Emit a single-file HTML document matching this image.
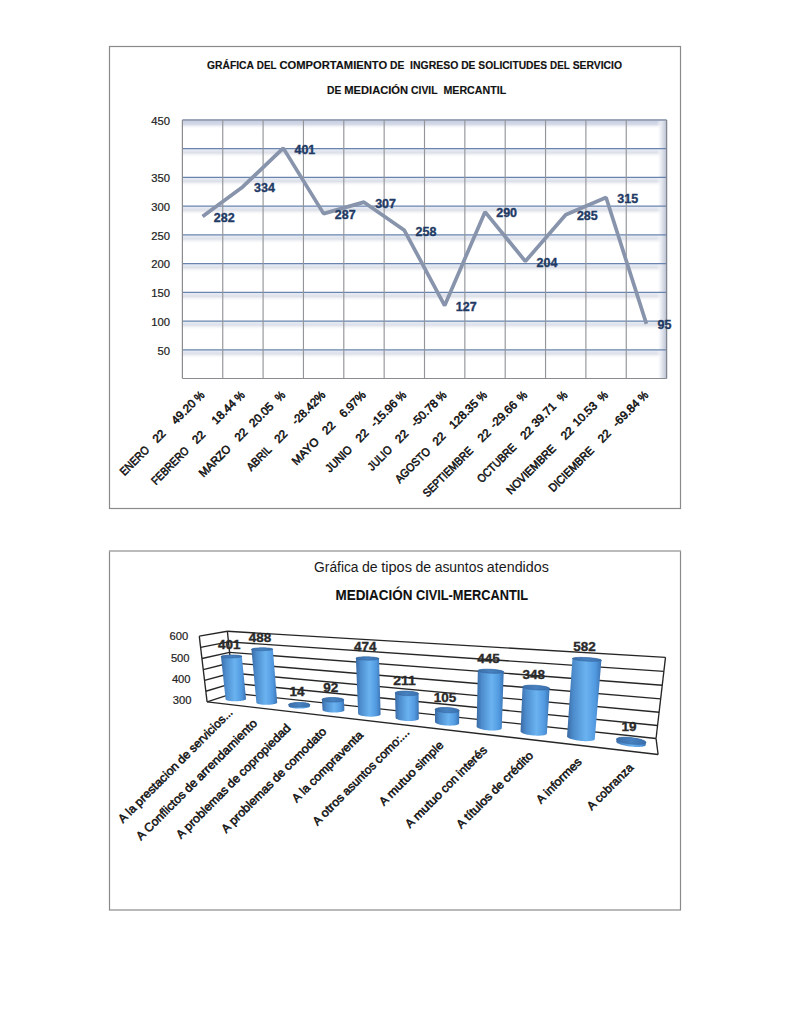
<!DOCTYPE html>
<html><head><meta charset="utf-8"><style>
html,body{margin:0;padding:0;background:#fff;}
svg{display:block;}
text{font-family:"Liberation Sans",sans-serif;white-space:pre;}
</style></head><body>
<svg width="791" height="1024" viewBox="0 0 791 1024">
<rect width="791" height="1024" fill="#fff"/>
<defs>
<linearGradient id="gshade" x1="0" y1="0" x2="0" y2="1">
 <stop offset="0" stop-color="#e8eef8"/><stop offset="0.45" stop-color="#dde0e8"/><stop offset="1" stop-color="#ffffff" stop-opacity="0"/>
</linearGradient>
<linearGradient id="gshadeT" x1="0" y1="0" x2="0" y2="1">
 <stop offset="0" stop-color="#c3cbe0"/><stop offset="0.5" stop-color="#d6dbe8"/><stop offset="1" stop-color="#ffffff" stop-opacity="0"/>
</linearGradient>
<linearGradient id="rshade" x1="0" y1="0" x2="1" y2="0">
 <stop offset="0" stop-color="#ffffff" stop-opacity="0"/><stop offset="0.5" stop-color="#e4e7ef"/><stop offset="1" stop-color="#bcc3d2"/>
</linearGradient>
<linearGradient id="cyl" x1="0" y1="0" x2="1" y2="0">
 <stop offset="0" stop-color="#3a6aa3"/><stop offset="0.18" stop-color="#4c8bcc"/><stop offset="0.55" stop-color="#6ab3f0"/><stop offset="0.82" stop-color="#529ae0"/><stop offset="1" stop-color="#3b73b3"/>
</linearGradient>
<linearGradient id="cyltop" x1="0" y1="0" x2="1" y2="0">
 <stop offset="0" stop-color="#3b6ea8"/><stop offset="0.5" stop-color="#4781bf"/><stop offset="1" stop-color="#3a70ad"/>
</linearGradient>
</defs>
<rect x="109.5" y="46.5" width="571" height="462" fill="#fff" stroke="#8a8a8a" stroke-width="1.2"/>
<text x="207.00" y="69.00" font-size="11.52" textLength="46.94" lengthAdjust="spacingAndGlyphs" style="font-weight:bold;fill:#111;stroke:#111;stroke-width:0.15">GRÁFICA</text>
<text x="256.83" y="69.00" font-size="11.52" textLength="19.73" lengthAdjust="spacingAndGlyphs" style="font-weight:bold;fill:#111;stroke:#111;stroke-width:0.15">DEL</text>
<text x="279.45" y="69.00" font-size="11.52" textLength="107.66" lengthAdjust="spacingAndGlyphs" style="font-weight:bold;fill:#111;stroke:#111;stroke-width:0.15">COMPORTAMIENTO</text>
<text x="390.00" y="69.00" font-size="11.52" textLength="14.31" lengthAdjust="spacingAndGlyphs" style="font-weight:bold;fill:#111;stroke:#111;stroke-width:0.15">DE</text>
<text x="410.10" y="69.00" font-size="11.52" textLength="48.16" lengthAdjust="spacingAndGlyphs" style="font-weight:bold;fill:#111;stroke:#111;stroke-width:0.15">INGRESO</text>
<text x="461.15" y="69.00" font-size="11.52" textLength="14.31" lengthAdjust="spacingAndGlyphs" style="font-weight:bold;fill:#111;stroke:#111;stroke-width:0.15">DE</text>
<text x="478.36" y="69.00" font-size="11.52" textLength="68.78" lengthAdjust="spacingAndGlyphs" style="font-weight:bold;fill:#111;stroke:#111;stroke-width:0.15">SOLICITUDES</text>
<text x="550.03" y="69.00" font-size="11.52" textLength="19.73" lengthAdjust="spacingAndGlyphs" style="font-weight:bold;fill:#111;stroke:#111;stroke-width:0.15">DEL</text>
<text x="572.64" y="69.00" font-size="11.52" textLength="49.33" lengthAdjust="spacingAndGlyphs" style="font-weight:bold;fill:#111;stroke:#111;stroke-width:0.15">SERVICIO</text>
<text x="327.00" y="94.40" font-size="11.52" textLength="14.31" lengthAdjust="spacingAndGlyphs" style="font-weight:bold;fill:#111;stroke:#111;stroke-width:0.15">DE</text>
<text x="344.21" y="94.40" font-size="11.52" textLength="63.94" lengthAdjust="spacingAndGlyphs" style="font-weight:bold;fill:#111;stroke:#111;stroke-width:0.15">MEDIACIÓN</text>
<text x="411.04" y="94.40" font-size="11.52" textLength="26.58" lengthAdjust="spacingAndGlyphs" style="font-weight:bold;fill:#111;stroke:#111;stroke-width:0.15">CIVIL</text>
<text x="443.41" y="94.40" font-size="11.52" textLength="62.76" lengthAdjust="spacingAndGlyphs" style="font-weight:bold;fill:#111;stroke:#111;stroke-width:0.15">MERCANTIL</text>
<rect x="182.4" y="349.78" width="484.2" height="9" fill="url(#gshade)"/>
<rect x="182.4" y="321.06" width="484.2" height="9" fill="url(#gshade)"/>
<rect x="182.4" y="292.33" width="484.2" height="9" fill="url(#gshade)"/>
<rect x="182.4" y="263.61" width="484.2" height="9" fill="url(#gshade)"/>
<rect x="182.4" y="234.89" width="484.2" height="9" fill="url(#gshade)"/>
<rect x="182.4" y="206.17" width="484.2" height="9" fill="url(#gshade)"/>
<rect x="182.4" y="177.44" width="484.2" height="9" fill="url(#gshade)"/>
<rect x="182.4" y="148.72" width="484.2" height="9" fill="url(#gshade)"/>
<rect x="182.4" y="120.00" width="484.2" height="9" fill="url(#gshadeT)"/>
<rect x="656.6" y="120.0" width="10" height="258.5" fill="url(#rshade)"/>
<line x1="182.4" y1="349.78" x2="666.6" y2="349.78" stroke="#6a84ae" stroke-width="1.2"/>
<line x1="182.4" y1="321.06" x2="666.6" y2="321.06" stroke="#6a84ae" stroke-width="1.2"/>
<line x1="182.4" y1="292.33" x2="666.6" y2="292.33" stroke="#6a84ae" stroke-width="1.2"/>
<line x1="182.4" y1="263.61" x2="666.6" y2="263.61" stroke="#6a84ae" stroke-width="1.2"/>
<line x1="182.4" y1="234.89" x2="666.6" y2="234.89" stroke="#6a84ae" stroke-width="1.2"/>
<line x1="182.4" y1="206.17" x2="666.6" y2="206.17" stroke="#6a84ae" stroke-width="1.2"/>
<line x1="182.4" y1="177.44" x2="666.6" y2="177.44" stroke="#6a84ae" stroke-width="1.2"/>
<line x1="182.4" y1="148.72" x2="666.6" y2="148.72" stroke="#6a84ae" stroke-width="1.2"/>
<line x1="182.4" y1="120.00" x2="666.6" y2="120.00" stroke="#9ba6ba" stroke-width="2"/>
<line x1="222.75" y1="120.0" x2="222.75" y2="378.5" stroke="#939599" stroke-width="1.15"/>
<line x1="263.10" y1="120.0" x2="263.10" y2="378.5" stroke="#939599" stroke-width="1.15"/>
<line x1="303.45" y1="120.0" x2="303.45" y2="378.5" stroke="#939599" stroke-width="1.15"/>
<line x1="343.80" y1="120.0" x2="343.80" y2="378.5" stroke="#939599" stroke-width="1.15"/>
<line x1="384.15" y1="120.0" x2="384.15" y2="378.5" stroke="#939599" stroke-width="1.15"/>
<line x1="424.50" y1="120.0" x2="424.50" y2="378.5" stroke="#939599" stroke-width="1.15"/>
<line x1="464.85" y1="120.0" x2="464.85" y2="378.5" stroke="#939599" stroke-width="1.15"/>
<line x1="505.20" y1="120.0" x2="505.20" y2="378.5" stroke="#939599" stroke-width="1.15"/>
<line x1="545.55" y1="120.0" x2="545.55" y2="378.5" stroke="#939599" stroke-width="1.15"/>
<line x1="585.90" y1="120.0" x2="585.90" y2="378.5" stroke="#939599" stroke-width="1.15"/>
<line x1="626.25" y1="120.0" x2="626.25" y2="378.5" stroke="#939599" stroke-width="1.15"/>
<line x1="182.4" y1="120.0" x2="182.4" y2="378.5" stroke="#8c8c90" stroke-width="1.2"/>
<line x1="182.4" y1="378.5" x2="666.6" y2="378.5" stroke="#8c8c90" stroke-width="1.2"/>
<line x1="666.6" y1="120.0" x2="666.6" y2="378.5" stroke="#80858f" stroke-width="1.3"/>
<text x="151.21" y="124.80" font-size="11.12" textLength="18.79" lengthAdjust="spacingAndGlyphs" style="fill:#222;stroke:#222;stroke-width:0.2">450</text>
<text x="151.21" y="182.24" font-size="11.12" textLength="18.79" lengthAdjust="spacingAndGlyphs" style="fill:#222;stroke:#222;stroke-width:0.2">350</text>
<text x="151.21" y="210.97" font-size="11.12" textLength="18.79" lengthAdjust="spacingAndGlyphs" style="fill:#222;stroke:#222;stroke-width:0.2">300</text>
<text x="151.21" y="239.69" font-size="11.12" textLength="18.79" lengthAdjust="spacingAndGlyphs" style="fill:#222;stroke:#222;stroke-width:0.2">250</text>
<text x="151.21" y="268.41" font-size="11.12" textLength="18.79" lengthAdjust="spacingAndGlyphs" style="fill:#222;stroke:#222;stroke-width:0.2">200</text>
<text x="151.21" y="297.13" font-size="11.12" textLength="18.79" lengthAdjust="spacingAndGlyphs" style="fill:#222;stroke:#222;stroke-width:0.2">150</text>
<text x="151.21" y="325.86" font-size="11.12" textLength="18.79" lengthAdjust="spacingAndGlyphs" style="fill:#222;stroke:#222;stroke-width:0.2">100</text>
<text x="157.47" y="354.58" font-size="11.12" textLength="12.53" lengthAdjust="spacingAndGlyphs" style="fill:#222;stroke:#222;stroke-width:0.2">50</text>
<polyline points="202.58,216.51 242.93,186.64 283.27,148.15 323.62,213.63 363.98,202.15 404.33,230.29 444.68,305.55 485.02,211.91 525.38,261.31 565.73,214.78 606.08,197.55 646.43,323.93" fill="none" stroke="#8794ab" stroke-width="3.7" stroke-linejoin="bevel" stroke-linecap="butt"/>
<text x="213.78" y="222.01" font-size="12.33" textLength="20.83" lengthAdjust="spacingAndGlyphs" style="font-weight:bold;fill:#1f3a64;stroke:#1f3a64;stroke-width:0.35">282</text>
<text x="254.12" y="192.14" font-size="12.33" textLength="20.83" lengthAdjust="spacingAndGlyphs" style="font-weight:bold;fill:#1f3a64;stroke:#1f3a64;stroke-width:0.35">334</text>
<text x="294.47" y="153.65" font-size="12.33" textLength="20.83" lengthAdjust="spacingAndGlyphs" style="font-weight:bold;fill:#1f3a64;stroke:#1f3a64;stroke-width:0.35">401</text>
<text x="334.82" y="219.13" font-size="12.33" textLength="20.83" lengthAdjust="spacingAndGlyphs" style="font-weight:bold;fill:#1f3a64;stroke:#1f3a64;stroke-width:0.35">287</text>
<text x="375.18" y="207.65" font-size="12.33" textLength="20.83" lengthAdjust="spacingAndGlyphs" style="font-weight:bold;fill:#1f3a64;stroke:#1f3a64;stroke-width:0.35">307</text>
<text x="415.53" y="235.79" font-size="12.33" textLength="20.83" lengthAdjust="spacingAndGlyphs" style="font-weight:bold;fill:#1f3a64;stroke:#1f3a64;stroke-width:0.35">258</text>
<text x="455.88" y="311.05" font-size="12.33" textLength="20.83" lengthAdjust="spacingAndGlyphs" style="font-weight:bold;fill:#1f3a64;stroke:#1f3a64;stroke-width:0.35">127</text>
<text x="496.22" y="217.41" font-size="12.33" textLength="20.83" lengthAdjust="spacingAndGlyphs" style="font-weight:bold;fill:#1f3a64;stroke:#1f3a64;stroke-width:0.35">290</text>
<text x="536.58" y="266.81" font-size="12.33" textLength="20.83" lengthAdjust="spacingAndGlyphs" style="font-weight:bold;fill:#1f3a64;stroke:#1f3a64;stroke-width:0.35">204</text>
<text x="576.93" y="220.28" font-size="12.33" textLength="20.83" lengthAdjust="spacingAndGlyphs" style="font-weight:bold;fill:#1f3a64;stroke:#1f3a64;stroke-width:0.35">285</text>
<text x="617.28" y="203.05" font-size="12.33" textLength="20.83" lengthAdjust="spacingAndGlyphs" style="font-weight:bold;fill:#1f3a64;stroke:#1f3a64;stroke-width:0.35">315</text>
<text x="657.63" y="329.43" font-size="12.33" textLength="13.89" lengthAdjust="spacingAndGlyphs" style="font-weight:bold;fill:#1f3a64;stroke:#1f3a64;stroke-width:0.35">95</text>
<text x="124.40" y="476.30" transform="rotate(-45 124.40 476.30)" font-size="11.52" textLength="36.19" lengthAdjust="spacingAndGlyphs" style="fill:#111;stroke:#111;stroke-width:0.55">ENERO</text>
<text x="157.16" y="443.54" transform="rotate(-45 157.16 443.54)" font-size="11.52" textLength="12.98" lengthAdjust="spacingAndGlyphs" style="fill:#111;stroke:#111;stroke-width:0.55">22</text>
<text x="175.97" y="424.91" transform="rotate(-45 175.97 424.91)" font-size="11.52" textLength="29.18" lengthAdjust="spacingAndGlyphs" style="fill:#111;stroke:#111;stroke-width:0.55">49.20</text>
<text x="198.73" y="402.15" transform="rotate(-45 198.73 402.15)" font-size="11.52" textLength="9.15" lengthAdjust="spacingAndGlyphs" style="fill:#111;stroke:#111;stroke-width:0.55">%</text>
<text x="156.00" y="485.40" transform="rotate(-45 156.00 485.40)" font-size="11.52" textLength="47.72" lengthAdjust="spacingAndGlyphs" style="fill:#111;stroke:#111;stroke-width:0.55">FEBRERO</text>
<text x="196.81" y="444.59" transform="rotate(-45 196.81 444.59)" font-size="11.52" textLength="12.98" lengthAdjust="spacingAndGlyphs" style="fill:#111;stroke:#111;stroke-width:0.55">22</text>
<text x="216.32" y="424.91" transform="rotate(-45 216.32 424.91)" font-size="11.52" textLength="29.18" lengthAdjust="spacingAndGlyphs" style="fill:#111;stroke:#111;stroke-width:0.55">18.44</text>
<text x="239.08" y="402.15" transform="rotate(-45 239.08 402.15)" font-size="11.52" textLength="9.15" lengthAdjust="spacingAndGlyphs" style="fill:#111;stroke:#111;stroke-width:0.55">%</text>
<text x="203.50" y="477.70" transform="rotate(-45 203.50 477.70)" font-size="11.52" textLength="39.77" lengthAdjust="spacingAndGlyphs" style="fill:#111;stroke:#111;stroke-width:0.55">MARZO</text>
<text x="239.16" y="442.04" transform="rotate(-45 239.16 442.04)" font-size="11.52" textLength="12.98" lengthAdjust="spacingAndGlyphs" style="fill:#111;stroke:#111;stroke-width:0.55">22</text>
<text x="253.84" y="427.73" transform="rotate(-45 253.84 427.73)" font-size="11.52" textLength="29.18" lengthAdjust="spacingAndGlyphs" style="fill:#111;stroke:#111;stroke-width:0.55">20.05</text>
<text x="279.42" y="402.15" transform="rotate(-45 279.42 402.15)" font-size="11.52" textLength="9.15" lengthAdjust="spacingAndGlyphs" style="fill:#111;stroke:#111;stroke-width:0.55">%</text>
<text x="251.20" y="471.60" transform="rotate(-45 251.20 471.60)" font-size="11.52" textLength="29.93" lengthAdjust="spacingAndGlyphs" style="fill:#111;stroke:#111;stroke-width:0.55">ABRIL</text>
<text x="279.03" y="443.77" transform="rotate(-45 279.03 443.77)" font-size="11.52" textLength="12.98" lengthAdjust="spacingAndGlyphs" style="fill:#111;stroke:#111;stroke-width:0.55">22</text>
<text x="296.37" y="425.56" transform="rotate(-45 296.37 425.56)" font-size="11.52" textLength="42.25" lengthAdjust="spacingAndGlyphs" style="fill:#111;stroke:#111;stroke-width:0.55">-28.42%</text>
<text x="296.50" y="465.70" transform="rotate(-45 296.50 465.70)" font-size="11.52" textLength="33.06" lengthAdjust="spacingAndGlyphs" style="fill:#111;stroke:#111;stroke-width:0.55">MAYO</text>
<text x="326.87" y="435.33" transform="rotate(-45 326.87 435.33)" font-size="11.52" textLength="12.98" lengthAdjust="spacingAndGlyphs" style="fill:#111;stroke:#111;stroke-width:0.55">22</text>
<text x="344.08" y="418.20" transform="rotate(-45 344.08 418.20)" font-size="11.52" textLength="31.84" lengthAdjust="spacingAndGlyphs" style="fill:#111;stroke:#111;stroke-width:0.55">6.97%</text>
<text x="330.10" y="473.10" transform="rotate(-45 330.10 473.10)" font-size="11.52" textLength="32.26" lengthAdjust="spacingAndGlyphs" style="fill:#111;stroke:#111;stroke-width:0.55">JUNIO</text>
<text x="360.25" y="442.95" transform="rotate(-45 360.25 442.95)" font-size="11.52" textLength="12.98" lengthAdjust="spacingAndGlyphs" style="fill:#111;stroke:#111;stroke-width:0.55">22</text>
<text x="374.95" y="427.68" transform="rotate(-45 374.95 427.68)" font-size="11.52" textLength="33.10" lengthAdjust="spacingAndGlyphs" style="fill:#111;stroke:#111;stroke-width:0.55">-15.96</text>
<text x="400.48" y="402.15" transform="rotate(-45 400.48 402.15)" font-size="11.52" textLength="9.15" lengthAdjust="spacingAndGlyphs" style="fill:#111;stroke:#111;stroke-width:0.55">%</text>
<text x="372.30" y="471.20" transform="rotate(-45 372.30 471.20)" font-size="11.52" textLength="29.38" lengthAdjust="spacingAndGlyphs" style="fill:#111;stroke:#111;stroke-width:0.55">JULIO</text>
<text x="399.84" y="443.66" transform="rotate(-45 399.84 443.66)" font-size="11.52" textLength="12.98" lengthAdjust="spacingAndGlyphs" style="fill:#111;stroke:#111;stroke-width:0.55">22</text>
<text x="415.44" y="427.54" transform="rotate(-45 415.44 427.54)" font-size="11.52" textLength="33.10" lengthAdjust="spacingAndGlyphs" style="fill:#111;stroke:#111;stroke-width:0.55">-50.78</text>
<text x="440.83" y="402.15" transform="rotate(-45 440.83 402.15)" font-size="11.52" textLength="9.15" lengthAdjust="spacingAndGlyphs" style="fill:#111;stroke:#111;stroke-width:0.55">%</text>
<text x="399.70" y="483.70" transform="rotate(-45 399.70 483.70)" font-size="11.52" textLength="44.55" lengthAdjust="spacingAndGlyphs" style="fill:#111;stroke:#111;stroke-width:0.55">AGOSTO</text>
<text x="437.24" y="446.16" transform="rotate(-45 437.24 446.16)" font-size="11.52" textLength="12.98" lengthAdjust="spacingAndGlyphs" style="fill:#111;stroke:#111;stroke-width:0.55">22</text>
<text x="453.83" y="429.49" transform="rotate(-45 453.83 429.49)" font-size="11.52" textLength="35.67" lengthAdjust="spacingAndGlyphs" style="fill:#111;stroke:#111;stroke-width:0.55">128.35</text>
<text x="481.17" y="402.15" transform="rotate(-45 481.17 402.15)" font-size="11.52" textLength="9.15" lengthAdjust="spacingAndGlyphs" style="fill:#111;stroke:#111;stroke-width:0.55">%</text>
<text x="427.40" y="497.80" transform="rotate(-45 427.40 497.80)" font-size="11.52" textLength="65.56" lengthAdjust="spacingAndGlyphs" style="fill:#111;stroke:#111;stroke-width:0.55">SEPTIEMBRE</text>
<text x="482.34" y="442.86" transform="rotate(-45 482.34 442.86)" font-size="11.52" textLength="12.98" lengthAdjust="spacingAndGlyphs" style="fill:#111;stroke:#111;stroke-width:0.55">22</text>
<text x="494.58" y="429.09" transform="rotate(-45 494.58 429.09)" font-size="11.52" textLength="33.10" lengthAdjust="spacingAndGlyphs" style="fill:#111;stroke:#111;stroke-width:0.55">-29.66</text>
<text x="521.52" y="402.15" transform="rotate(-45 521.52 402.15)" font-size="11.52" textLength="9.15" lengthAdjust="spacingAndGlyphs" style="fill:#111;stroke:#111;stroke-width:0.55">%</text>
<text x="481.70" y="483.50" transform="rotate(-45 481.70 483.50)" font-size="11.52" textLength="49.91" lengthAdjust="spacingAndGlyphs" style="fill:#111;stroke:#111;stroke-width:0.55">OCTUBRE</text>
<text x="524.97" y="440.23" transform="rotate(-45 524.97 440.23)" font-size="11.52" textLength="12.98" lengthAdjust="spacingAndGlyphs" style="fill:#111;stroke:#111;stroke-width:0.55">22</text>
<text x="536.29" y="427.73" transform="rotate(-45 536.29 427.73)" font-size="11.52" textLength="29.18" lengthAdjust="spacingAndGlyphs" style="fill:#111;stroke:#111;stroke-width:0.55">39.71</text>
<text x="561.88" y="402.15" transform="rotate(-45 561.88 402.15)" font-size="11.52" textLength="9.15" lengthAdjust="spacingAndGlyphs" style="fill:#111;stroke:#111;stroke-width:0.55">%</text>
<text x="510.90" y="495.10" transform="rotate(-45 510.90 495.10)" font-size="11.52" textLength="64.58" lengthAdjust="spacingAndGlyphs" style="fill:#111;stroke:#111;stroke-width:0.55">NOVIEMBRE</text>
<text x="565.48" y="440.52" transform="rotate(-45 565.48 440.52)" font-size="11.52" textLength="12.98" lengthAdjust="spacingAndGlyphs" style="fill:#111;stroke:#111;stroke-width:0.55">22</text>
<text x="577.35" y="427.03" transform="rotate(-45 577.35 427.03)" font-size="11.52" textLength="29.18" lengthAdjust="spacingAndGlyphs" style="fill:#111;stroke:#111;stroke-width:0.55">10.53</text>
<text x="602.23" y="402.15" transform="rotate(-45 602.23 402.15)" font-size="11.52" textLength="9.15" lengthAdjust="spacingAndGlyphs" style="fill:#111;stroke:#111;stroke-width:0.55">%</text>
<text x="553.30" y="492.60" transform="rotate(-45 553.30 492.60)" font-size="11.52" textLength="58.51" lengthAdjust="spacingAndGlyphs" style="fill:#111;stroke:#111;stroke-width:0.55">DICIEMBRE</text>
<text x="602.44" y="443.46" transform="rotate(-45 602.44 443.46)" font-size="11.52" textLength="12.98" lengthAdjust="spacingAndGlyphs" style="fill:#111;stroke:#111;stroke-width:0.55">22</text>
<text x="617.05" y="427.68" transform="rotate(-45 617.05 427.68)" font-size="11.52" textLength="33.10" lengthAdjust="spacingAndGlyphs" style="fill:#111;stroke:#111;stroke-width:0.55">-69.84</text>
<text x="642.58" y="402.15" transform="rotate(-45 642.58 402.15)" font-size="11.52" textLength="9.15" lengthAdjust="spacingAndGlyphs" style="fill:#111;stroke:#111;stroke-width:0.55">%</text>
<rect x="109.5" y="551" width="571" height="359" fill="#fff" stroke="#8a8a8a" stroke-width="1.2"/>
<line x1="109.5" y1="551" x2="680.5" y2="551" stroke="#bdbdbd" stroke-width="1.4"/>
<text x="314.10" y="572.00" font-size="13.81" textLength="44.44" lengthAdjust="spacingAndGlyphs" style="fill:#1a1a1a;stroke:#1a1a1a;stroke-width:0">Gráfica</text>
<text x="362.01" y="572.00" font-size="13.81" textLength="15.70" lengthAdjust="spacingAndGlyphs" style="fill:#1a1a1a;stroke:#1a1a1a;stroke-width:0">de</text>
<text x="381.18" y="572.00" font-size="13.81" textLength="30.83" lengthAdjust="spacingAndGlyphs" style="fill:#1a1a1a;stroke:#1a1a1a;stroke-width:0">tipos</text>
<text x="415.48" y="572.00" font-size="13.81" textLength="15.70" lengthAdjust="spacingAndGlyphs" style="fill:#1a1a1a;stroke:#1a1a1a;stroke-width:0">de</text>
<text x="434.65" y="572.00" font-size="13.81" textLength="48.73" lengthAdjust="spacingAndGlyphs" style="fill:#1a1a1a;stroke:#1a1a1a;stroke-width:0">asuntos</text>
<text x="486.85" y="572.00" font-size="13.81" textLength="61.95" lengthAdjust="spacingAndGlyphs" style="fill:#1a1a1a;stroke:#1a1a1a;stroke-width:0">atendidos</text>
<text x="335.50" y="599.80" font-size="13.86" textLength="76.93" lengthAdjust="spacingAndGlyphs" style="font-weight:bold;fill:#111;stroke:#111;stroke-width:0.1">MEDIACIÓN</text>
<text x="415.91" y="599.80" font-size="13.86" textLength="112.21" lengthAdjust="spacingAndGlyphs" style="font-weight:bold;fill:#111;stroke:#111;stroke-width:0.1">CIVIL-MERCANTIL</text>
<line x1="207.09" y1="701.95" x2="233.83" y2="693.21" stroke="#262626" stroke-width="1.35"/>
<line x1="233.83" y1="693.21" x2="656.05" y2="738.54" stroke="#262626" stroke-width="1.35"/>
<line x1="205.82" y1="691.27" x2="232.78" y2="683.16" stroke="#262626" stroke-width="1.35"/>
<line x1="232.78" y1="683.16" x2="657.57" y2="725.49" stroke="#262626" stroke-width="1.35"/>
<line x1="204.54" y1="680.47" x2="231.72" y2="673.00" stroke="#262626" stroke-width="1.35"/>
<line x1="231.72" y1="673.00" x2="659.11" y2="712.26" stroke="#262626" stroke-width="1.35"/>
<line x1="203.25" y1="669.55" x2="230.65" y2="662.74" stroke="#262626" stroke-width="1.35"/>
<line x1="230.65" y1="662.74" x2="660.67" y2="698.85" stroke="#262626" stroke-width="1.35"/>
<line x1="201.94" y1="658.51" x2="229.57" y2="652.37" stroke="#262626" stroke-width="1.35"/>
<line x1="229.57" y1="652.37" x2="662.25" y2="685.24" stroke="#262626" stroke-width="1.35"/>
<line x1="200.61" y1="647.34" x2="228.47" y2="641.89" stroke="#262626" stroke-width="1.35"/>
<line x1="228.47" y1="641.89" x2="663.86" y2="671.44" stroke="#262626" stroke-width="1.35"/>
<line x1="199.27" y1="636.05" x2="227.37" y2="631.29" stroke="#262626" stroke-width="1.35"/>
<line x1="227.37" y1="631.29" x2="665.49" y2="657.45" stroke="#262626" stroke-width="1.35"/>
<line x1="207.09" y1="701.95" x2="199.27" y2="636.05" stroke="#262626" stroke-width="1.35"/>
<line x1="233.83" y1="693.21" x2="227.37" y2="631.29" stroke="#262626" stroke-width="1.35"/>
<line x1="656.05" y1="738.54" x2="665.49" y2="657.45" stroke="#262626" stroke-width="1.35"/>
<line x1="207.09" y1="701.95" x2="658.12" y2="754.52" stroke="#262626" stroke-width="1.35"/>
<line x1="658.12" y1="754.52" x2="656.05" y2="738.54" stroke="#262626" stroke-width="1.35"/>
<text x="169.60" y="640.40" font-size="11.07" textLength="18.70" lengthAdjust="spacingAndGlyphs" style="fill:#222;stroke:#222;stroke-width:0.2">600</text>
<text x="170.90" y="661.70" font-size="11.07" textLength="18.70" lengthAdjust="spacingAndGlyphs" style="fill:#222;stroke:#222;stroke-width:0.2">500</text>
<text x="171.90" y="682.80" font-size="11.07" textLength="18.70" lengthAdjust="spacingAndGlyphs" style="fill:#222;stroke:#222;stroke-width:0.2">400</text>
<text x="172.80" y="704.30" font-size="11.07" textLength="18.70" lengthAdjust="spacingAndGlyphs" style="fill:#222;stroke:#222;stroke-width:0.2">300</text>
<path d="M220.96,656.62 L220.98,656.49 L221.08,656.36 L221.25,656.23 L221.51,656.11 L221.83,655.98 L222.23,655.86 L222.70,655.74 L223.23,655.63 L223.82,655.53 L224.47,655.43 L225.17,655.34 L225.92,655.26 L226.70,655.19 L227.52,655.13 L228.37,655.07 L229.24,655.03 L230.13,655.00 L231.02,654.98 L231.92,654.97 L232.81,654.97 L233.70,654.98 L234.56,655.00 L235.41,655.03 L236.22,655.08 L237.00,655.13 L237.74,655.20 L238.43,655.27 L239.07,655.35 L239.65,655.44 L240.17,655.54 L240.63,655.64 L241.02,655.75 L241.34,655.87 L241.58,655.99 L241.75,656.12 L241.84,656.25 L246.02,698.82 L246.03,699.01 L245.97,699.19 L245.83,699.38 L245.62,699.56 L245.32,699.74 L244.96,699.91 L244.52,700.08 L244.02,700.24 L243.45,700.40 L242.83,700.54 L242.15,700.68 L241.41,700.80 L240.64,700.91 L239.82,701.00 L238.98,701.09 L238.11,701.15 L237.22,701.20 L236.32,701.24 L235.41,701.25 L234.51,701.25 L233.62,701.24 L232.75,701.21 L231.90,701.16 L231.08,701.10 L230.30,701.02 L229.56,700.92 L228.87,700.82 L228.24,700.70 L227.67,700.56 L227.16,700.42 L226.72,700.27 L226.35,700.11 L226.05,699.94 L225.83,699.76 L225.68,699.58 L225.62,699.40Z" fill="url(#cyl)"/>
<path d="M240.27,657.13 L240.72,657.01 L241.10,656.89 L241.40,656.76 L241.63,656.63 L241.78,656.50 L241.85,656.37 L241.84,656.25 L241.75,656.12 L241.58,655.99 L241.34,655.87 L241.02,655.76 L240.63,655.64 L240.17,655.54 L239.65,655.44 L239.07,655.35 L238.43,655.27 L237.74,655.20 L237.00,655.13 L236.22,655.08 L235.41,655.03 L234.56,655.00 L233.70,654.98 L232.81,654.97 L231.92,654.97 L231.02,654.98 L230.13,655.00 L229.24,655.03 L228.37,655.07 L227.52,655.13 L226.70,655.19 L225.92,655.26 L225.17,655.34 L224.47,655.43 L223.83,655.53 L223.23,655.63 L222.70,655.74 L222.23,655.86 L221.83,655.98 L221.51,656.11 L221.25,656.23 L221.08,656.36 L220.98,656.49 L220.96,656.62 L221.02,656.75 L221.16,656.88 L221.38,657.00 L221.68,657.12 L222.06,657.24 L222.50,657.35 L223.02,657.45 L223.60,657.54 L224.24,657.63 L224.94,657.70 L225.69,657.77 L226.49,657.83 L227.32,657.88 L228.19,657.91 L229.08,657.93 L229.99,657.95 L230.91,657.95 L231.84,657.94 L232.76,657.91 L233.67,657.88 L234.56,657.83 L235.43,657.78 L236.27,657.71 L237.06,657.63 L237.82,657.55 L238.52,657.46 L239.16,657.35 L239.75,657.25Z" fill="url(#cyltop)" stroke="#3566a0" stroke-width="0.6"/>
<path d="M251.43,649.25 L251.49,649.12 L251.62,649.00 L251.84,648.88 L252.14,648.76 L252.51,648.65 L252.95,648.54 L253.46,648.43 L254.04,648.33 L254.67,648.24 L255.36,648.16 L256.10,648.08 L256.88,648.01 L257.71,647.95 L258.56,647.90 L259.44,647.86 L260.34,647.83 L261.25,647.81 L262.17,647.80 L263.09,647.80 L264.00,647.81 L264.90,647.84 L265.77,647.87 L266.62,647.91 L267.44,647.96 L268.22,648.02 L268.96,648.09 L269.64,648.17 L270.27,648.26 L270.84,648.35 L271.35,648.45 L271.78,648.56 L272.15,648.67 L272.44,648.78 L272.65,648.90 L272.79,649.02 L272.84,649.14 L277.23,702.46 L277.20,702.66 L277.10,702.85 L276.93,703.04 L276.67,703.23 L276.33,703.41 L275.93,703.59 L275.45,703.76 L274.91,703.92 L274.30,704.08 L273.63,704.22 L272.91,704.35 L272.14,704.46 L271.33,704.56 L270.48,704.65 L269.61,704.72 L268.71,704.77 L267.80,704.80 L266.88,704.82 L265.95,704.82 L265.04,704.81 L264.14,704.77 L263.26,704.73 L262.40,704.66 L261.59,704.58 L260.81,704.48 L260.08,704.36 L259.41,704.24 L258.79,704.10 L258.24,703.95 L257.75,703.79 L257.34,703.62 L257.00,703.44 L256.73,703.26 L256.54,703.07 L256.43,702.88 L256.40,702.68Z" fill="url(#cyl)"/>
<path d="M271.47,649.87 L271.89,649.75 L272.24,649.63 L272.51,649.51 L272.70,649.39 L272.81,649.27 L272.84,649.14 L272.79,649.02 L272.65,648.90 L272.44,648.78 L272.15,648.67 L271.78,648.56 L271.35,648.45 L270.84,648.35 L270.27,648.26 L269.64,648.17 L268.96,648.09 L268.22,648.02 L267.44,647.96 L266.63,647.91 L265.77,647.87 L264.90,647.84 L264.00,647.81 L263.09,647.80 L262.17,647.80 L261.25,647.81 L260.34,647.83 L259.44,647.86 L258.56,647.90 L257.71,647.95 L256.88,648.01 L256.10,648.08 L255.36,648.16 L254.67,648.24 L254.04,648.33 L253.46,648.43 L252.95,648.54 L252.51,648.65 L252.14,648.76 L251.84,648.88 L251.62,649.00 L251.49,649.13 L251.43,649.25 L251.45,649.37 L251.56,649.50 L251.74,649.62 L252.01,649.73 L252.36,649.85 L252.78,649.96 L253.27,650.06 L253.84,650.16 L254.46,650.25 L255.15,650.33 L255.90,650.41 L256.69,650.47 L257.53,650.52 L258.40,650.57 L259.31,650.60 L260.23,650.63 L261.17,650.64 L262.12,650.64 L263.07,650.63 L264.01,650.61 L264.94,650.57 L265.84,650.53 L266.71,650.48 L267.55,650.42 L268.34,650.34 L269.09,650.26 L269.78,650.17 L270.41,650.08 L270.97,649.97Z" fill="url(#cyltop)" stroke="#3566a0" stroke-width="0.6"/>
<path d="M288.57,704.80 L288.57,704.60 L288.66,704.40 L288.83,704.20 L289.07,704.01 L289.39,703.82 L289.79,703.64 L290.25,703.47 L290.78,703.30 L291.38,703.15 L292.03,703.01 L292.73,702.88 L293.49,702.77 L294.28,702.67 L295.11,702.59 L295.97,702.52 L296.85,702.47 L297.75,702.43 L298.66,702.41 L299.57,702.41 L300.49,702.43 L301.39,702.46 L302.28,702.51 L303.14,702.58 L303.98,702.66 L304.78,702.75 L305.54,702.87 L306.25,702.99 L306.92,703.13 L307.52,703.28 L308.07,703.44 L308.55,703.61 L308.96,703.79 L309.30,703.98 L309.56,704.17 L309.74,704.37 L309.85,704.57 L309.87,704.77 L309.97,706.29 L309.91,706.50 L309.77,706.70 L309.56,706.89 L309.26,707.09 L308.89,707.27 L308.44,707.46 L307.92,707.62 L307.33,707.78 L306.68,707.93 L305.98,708.07 L305.21,708.19 L304.41,708.29 L303.56,708.38 L302.68,708.46 L301.77,708.51 L300.85,708.55 L299.91,708.57 L298.96,708.57 L298.02,708.55 L297.09,708.52 L296.18,708.47 L295.29,708.40 L294.44,708.31 L293.62,708.21 L292.85,708.09 L292.13,707.96 L291.46,707.81 L290.86,707.65 L290.33,707.48 L289.86,707.30 L289.47,707.12 L289.15,706.93 L288.92,706.73 L288.76,706.53 L288.69,706.33Z" fill="url(#cyl)"/>
<path d="M308.78,705.74 L309.16,705.55 L309.46,705.36 L309.68,705.17 L309.81,704.97 L309.87,704.77 L309.85,704.57 L309.74,704.37 L309.56,704.17 L309.30,703.98 L308.96,703.79 L308.55,703.61 L308.07,703.44 L307.52,703.28 L306.92,703.13 L306.26,702.99 L305.54,702.87 L304.78,702.76 L303.98,702.66 L303.14,702.58 L302.28,702.51 L301.39,702.46 L300.49,702.43 L299.58,702.41 L298.66,702.41 L297.75,702.43 L296.85,702.47 L295.97,702.52 L295.11,702.59 L294.28,702.67 L293.48,702.77 L292.73,702.88 L292.03,703.01 L291.38,703.15 L290.78,703.30 L290.25,703.47 L289.79,703.64 L289.39,703.82 L289.07,704.01 L288.83,704.20 L288.66,704.40 L288.58,704.60 L288.57,704.80 L288.64,705.00 L288.80,705.20 L289.04,705.39 L289.35,705.58 L289.74,705.77 L290.21,705.95 L290.75,706.11 L291.35,706.27 L292.01,706.41 L292.73,706.55 L293.51,706.66 L294.32,706.76 L295.18,706.85 L296.07,706.92 L296.98,706.97 L297.91,707.01 L298.85,707.02 L299.80,707.02 L300.74,707.00 L301.67,706.97 L302.57,706.91 L303.46,706.84 L304.30,706.75 L305.11,706.64 L305.87,706.52 L306.58,706.39 L307.23,706.24 L307.82,706.09 L308.34,705.92Z" fill="url(#cyltop)" stroke="#3566a0" stroke-width="0.6"/>
<path d="M321.95,699.64 L321.99,699.44 L322.11,699.24 L322.32,699.05 L322.60,698.86 L322.97,698.68 L323.40,698.51 L323.91,698.35 L324.48,698.20 L325.12,698.06 L325.81,697.93 L326.56,697.82 L327.35,697.72 L328.18,697.64 L329.05,697.57 L329.95,697.52 L330.86,697.49 L331.80,697.47 L332.74,697.47 L333.68,697.48 L334.61,697.52 L335.54,697.57 L336.44,697.63 L337.32,697.71 L338.17,697.81 L338.98,697.92 L339.75,698.04 L340.46,698.18 L341.12,698.33 L341.72,698.49 L342.25,698.66 L342.72,698.84 L343.11,699.02 L343.43,699.22 L343.67,699.41 L343.82,699.61 L343.89,699.81 L344.39,710.11 L344.38,710.32 L344.29,710.54 L344.11,710.75 L343.85,710.95 L343.51,711.14 L343.10,711.33 L342.61,711.51 L342.05,711.68 L341.42,711.84 L340.73,711.98 L339.98,712.11 L339.18,712.22 L338.33,712.31 L337.44,712.39 L336.53,712.45 L335.59,712.49 L334.63,712.51 L333.67,712.51 L332.70,712.49 L331.74,712.46 L330.79,712.40 L329.86,712.33 L328.96,712.24 L328.10,712.13 L327.28,712.00 L326.51,711.86 L325.80,711.71 L325.14,711.54 L324.56,711.37 L324.04,711.18 L323.59,710.98 L323.22,710.78 L322.93,710.57 L322.72,710.36 L322.60,710.15 L322.56,709.93Z" fill="url(#cyl)"/>
<path d="M343.02,700.78 L343.36,700.59 L343.62,700.40 L343.79,700.21 L343.89,700.01 L343.90,699.81 L343.82,699.61 L343.67,699.41 L343.43,699.21 L343.11,699.02 L342.72,698.84 L342.25,698.66 L341.72,698.49 L341.12,698.33 L340.46,698.18 L339.74,698.04 L338.98,697.92 L338.17,697.81 L337.32,697.71 L336.44,697.63 L335.54,697.57 L334.61,697.52 L333.68,697.48 L332.74,697.47 L331.80,697.47 L330.86,697.49 L329.95,697.52 L329.05,697.57 L328.18,697.64 L327.35,697.72 L326.56,697.82 L325.81,697.93 L325.12,698.06 L324.48,698.20 L323.91,698.35 L323.40,698.51 L322.97,698.68 L322.60,698.86 L322.32,699.05 L322.11,699.24 L321.99,699.44 L321.95,699.64 L321.99,699.84 L322.12,700.04 L322.32,700.23 L322.61,700.43 L322.98,700.62 L323.43,700.80 L323.95,700.98 L324.54,701.14 L325.20,701.30 L325.92,701.44 L326.69,701.57 L327.52,701.69 L328.38,701.79 L329.28,701.88 L330.21,701.95 L331.17,702.00 L332.13,702.04 L333.11,702.05 L334.08,702.05 L335.04,702.03 L335.99,701.99 L336.91,701.94 L337.80,701.87 L338.65,701.78 L339.45,701.68 L340.21,701.56 L340.90,701.42 L341.54,701.28 L342.10,701.12 L342.60,700.95Z" fill="url(#cyltop)" stroke="#3566a0" stroke-width="0.6"/>
<path d="M355.90,658.21 L355.99,658.06 L356.15,657.92 L356.40,657.78 L356.74,657.65 L357.15,657.53 L357.64,657.41 L358.20,657.30 L358.83,657.20 L359.53,657.11 L360.28,657.02 L361.08,656.95 L361.94,656.89 L362.83,656.85 L363.75,656.81 L364.70,656.78 L365.68,656.77 L366.66,656.77 L367.65,656.79 L368.64,656.81 L369.62,656.85 L370.59,656.90 L371.53,656.96 L372.44,657.03 L373.32,657.11 L374.16,657.21 L374.94,657.31 L375.67,657.42 L376.34,657.54 L376.95,657.66 L377.48,657.80 L377.94,657.93 L378.33,658.08 L378.63,658.22 L378.84,658.37 L378.98,658.51 L379.02,658.66 L380.62,714.35 L380.58,714.58 L380.45,714.79 L380.24,715.01 L379.94,715.22 L379.57,715.42 L379.11,715.61 L378.57,715.78 L377.97,715.95 L377.29,716.10 L376.56,716.23 L375.76,716.35 L374.92,716.45 L374.03,716.53 L373.11,716.59 L372.15,716.63 L371.18,716.66 L370.19,716.66 L369.19,716.64 L368.20,716.60 L367.21,716.54 L366.24,716.47 L365.30,716.37 L364.39,716.25 L363.52,716.12 L362.70,715.98 L361.93,715.82 L361.22,715.64 L360.57,715.45 L359.99,715.25 L359.49,715.05 L359.06,714.84 L358.71,714.62 L358.44,714.39 L358.26,714.17 L358.17,713.94 L358.16,713.72Z" fill="url(#cyl)"/>
<path d="M378.31,659.23 L378.62,659.09 L378.84,658.95 L378.97,658.81 L379.02,658.66 L378.97,658.51 L378.84,658.37 L378.63,658.22 L378.33,658.07 L377.94,657.93 L377.48,657.80 L376.95,657.66 L376.34,657.54 L375.67,657.42 L374.94,657.31 L374.16,657.21 L373.32,657.11 L372.44,657.03 L371.53,656.96 L370.59,656.90 L369.62,656.85 L368.64,656.81 L367.65,656.79 L366.66,656.77 L365.68,656.77 L364.70,656.78 L363.75,656.81 L362.83,656.84 L361.93,656.89 L361.08,656.95 L360.28,657.02 L359.53,657.11 L358.83,657.20 L358.20,657.30 L357.64,657.41 L357.15,657.53 L356.74,657.65 L356.40,657.78 L356.15,657.92 L355.98,658.06 L355.90,658.21 L355.91,658.35 L356.01,658.50 L356.19,658.65 L356.46,658.80 L356.82,658.94 L357.25,659.08 L357.77,659.22 L358.36,659.35 L359.03,659.47 L359.76,659.59 L360.55,659.69 L361.39,659.79 L362.29,659.88 L363.22,659.95 L364.19,660.02 L365.19,660.07 L366.20,660.11 L367.22,660.14 L368.25,660.15 L369.27,660.15 L370.27,660.14 L371.26,660.11 L372.21,660.07 L373.12,660.02 L373.99,659.96 L374.81,659.88 L375.57,659.80 L376.27,659.70 L376.89,659.59 L377.44,659.48 L377.92,659.36Z" fill="url(#cyltop)" stroke="#3566a0" stroke-width="0.6"/>
<path d="M395.07,693.01 L395.09,692.81 L395.20,692.62 L395.40,692.43 L395.69,692.25 L396.05,692.08 L396.50,691.91 L397.02,691.76 L397.61,691.62 L398.28,691.49 L399.00,691.38 L399.78,691.28 L400.62,691.20 L401.50,691.13 L402.42,691.08 L403.37,691.04 L404.34,691.02 L405.33,691.02 L406.34,691.04 L407.35,691.07 L408.35,691.12 L409.35,691.19 L410.32,691.27 L411.27,691.37 L412.19,691.48 L413.07,691.61 L413.91,691.75 L414.69,691.90 L415.41,692.06 L416.08,692.23 L416.67,692.41 L417.19,692.60 L417.63,692.79 L418.00,692.99 L418.27,693.19 L418.47,693.39 L418.57,693.59 L418.58,693.79 L418.81,718.83 L418.74,719.06 L418.57,719.29 L418.32,719.51 L417.98,719.72 L417.56,719.91 L417.06,720.10 L416.48,720.28 L415.83,720.43 L415.11,720.58 L414.32,720.70 L413.48,720.81 L412.59,720.89 L411.66,720.96 L410.69,721.00 L409.70,721.03 L408.68,721.03 L407.65,721.01 L406.62,720.97 L405.60,720.91 L404.59,720.83 L403.60,720.72 L402.63,720.60 L401.71,720.47 L400.83,720.31 L400.00,720.14 L399.22,719.96 L398.51,719.76 L397.87,719.55 L397.30,719.33 L396.80,719.11 L396.39,718.88 L396.06,718.64 L395.82,718.40 L395.67,718.16 L395.60,717.93Z" fill="url(#cyl)"/>
<path d="M418.09,694.37 L418.34,694.19 L418.51,693.99 L418.59,693.79 L418.57,693.59 L418.47,693.39 L418.28,693.19 L418.00,692.99 L417.63,692.79 L417.19,692.60 L416.67,692.41 L416.08,692.23 L415.41,692.06 L414.69,691.90 L413.91,691.75 L413.07,691.61 L412.19,691.48 L411.27,691.37 L410.32,691.27 L409.35,691.19 L408.35,691.12 L407.35,691.07 L406.34,691.04 L405.33,691.02 L404.34,691.02 L403.36,691.04 L402.41,691.08 L401.50,691.13 L400.62,691.20 L399.78,691.28 L399.00,691.38 L398.28,691.49 L397.61,691.62 L397.02,691.76 L396.50,691.91 L396.05,692.08 L395.68,692.25 L395.40,692.43 L395.20,692.62 L395.09,692.81 L395.07,693.01 L395.14,693.21 L395.30,693.42 L395.54,693.62 L395.87,693.82 L396.29,694.02 L396.79,694.21 L397.37,694.39 L398.02,694.57 L398.74,694.74 L399.52,694.90 L400.36,695.04 L401.26,695.18 L402.19,695.30 L403.17,695.40 L404.17,695.49 L405.20,695.56 L406.24,695.61 L407.28,695.65 L408.32,695.66 L409.35,695.66 L410.36,695.64 L411.34,695.60 L412.28,695.55 L413.19,695.48 L414.04,695.39 L414.83,695.28 L415.56,695.16 L416.22,695.03 L416.81,694.88 L417.32,694.72 L417.75,694.55Z" fill="url(#cyltop)" stroke="#3566a0" stroke-width="0.6"/>
<path d="M435.03,709.51 L435.08,709.29 L435.22,709.07 L435.46,708.86 L435.78,708.66 L436.18,708.48 L436.67,708.30 L437.23,708.14 L437.86,707.99 L438.57,707.86 L439.33,707.75 L440.16,707.65 L441.03,707.57 L441.95,707.51 L442.91,707.47 L443.90,707.45 L444.91,707.45 L445.94,707.47 L446.97,707.50 L448.01,707.56 L449.05,707.63 L450.07,707.73 L451.07,707.84 L452.04,707.97 L452.97,708.11 L453.87,708.27 L454.71,708.45 L455.50,708.63 L456.23,708.83 L456.89,709.03 L457.48,709.25 L458.00,709.47 L458.43,709.70 L458.77,709.93 L459.03,710.16 L459.20,710.40 L459.28,710.63 L459.12,723.31 L459.11,723.56 L459.00,723.80 L458.80,724.03 L458.51,724.25 L458.13,724.46 L457.67,724.66 L457.12,724.85 L456.49,725.01 L455.79,725.16 L455.01,725.29 L454.18,725.41 L453.29,725.50 L452.35,725.57 L451.37,725.61 L450.35,725.64 L449.31,725.64 L448.25,725.62 L447.18,725.58 L446.11,725.51 L445.05,725.43 L444.01,725.32 L442.99,725.19 L442.00,725.05 L441.06,724.88 L440.16,724.70 L439.32,724.51 L438.54,724.30 L437.82,724.08 L437.18,723.85 L436.62,723.61 L436.14,723.37 L435.74,723.12 L435.43,722.87 L435.21,722.62 L435.07,722.37 L435.04,722.12Z" fill="url(#cyl)"/>
<path d="M458.95,711.29 L459.16,711.08 L459.26,710.85 L459.28,710.63 L459.20,710.40 L459.03,710.16 L458.77,709.93 L458.43,709.70 L457.99,709.47 L457.48,709.25 L456.89,709.04 L456.23,708.83 L455.50,708.63 L454.71,708.45 L453.87,708.27 L452.97,708.11 L452.04,707.97 L451.07,707.84 L450.07,707.73 L449.05,707.64 L448.01,707.56 L446.97,707.50 L445.94,707.47 L444.91,707.45 L443.90,707.45 L442.91,707.47 L441.95,707.51 L441.03,707.57 L440.16,707.65 L439.33,707.75 L438.57,707.86 L437.86,707.99 L437.23,708.14 L436.66,708.30 L436.18,708.48 L435.78,708.66 L435.46,708.86 L435.22,709.07 L435.08,709.29 L435.03,709.51 L435.07,709.74 L435.20,709.97 L435.42,710.20 L435.74,710.44 L436.14,710.67 L436.62,710.89 L437.19,711.12 L437.84,711.33 L438.55,711.53 L439.34,711.73 L440.19,711.91 L441.09,712.08 L442.05,712.23 L443.04,712.36 L444.06,712.48 L445.12,712.58 L446.18,712.66 L447.26,712.72 L448.33,712.76 L449.40,712.78 L450.45,712.78 L451.47,712.76 L452.46,712.71 L453.41,712.65 L454.30,712.57 L455.14,712.46 L455.92,712.34 L456.63,712.20 L457.26,712.05 L457.81,711.88 L458.28,711.69 L458.66,711.50Z" fill="url(#cyltop)" stroke="#3566a0" stroke-width="0.6"/>
<path d="M476.64,726.54 L477.84,670.58 L477.92,670.42 L478.10,670.25 L478.38,670.10 L478.74,669.96 L479.20,669.82 L479.74,669.70 L480.36,669.58 L481.06,669.48 L481.83,669.39 L482.66,669.32 L483.56,669.26 L484.50,669.22 L485.49,669.18 L486.52,669.17 L487.58,669.17 L488.67,669.18 L489.77,669.22 L490.88,669.26 L491.98,669.32 L493.08,669.39 L494.17,669.48 L495.23,669.58 L496.25,669.70 L497.24,669.82 L498.18,669.96 L499.07,670.10 L499.89,670.25 L500.65,670.41 L501.34,670.58 L501.94,670.76 L502.47,670.93 L502.91,671.11 L503.25,671.29 L503.50,671.47 L503.65,671.65 L503.71,671.83 L501.76,728.31 L501.71,728.56 L501.57,728.81 L501.33,729.04 L501.00,729.27 L500.57,729.48 L500.06,729.67 L499.46,729.85 L498.78,730.01 L498.02,730.15 L497.19,730.27 L496.30,730.36 L495.36,730.44 L494.36,730.49 L493.32,730.51 L492.25,730.52 L491.16,730.50 L490.05,730.45 L488.94,730.38 L487.82,730.29 L486.72,730.18 L485.64,730.04 L484.59,729.89 L483.57,729.72 L482.60,729.52 L481.69,729.32 L480.83,729.10 L480.04,728.86 L479.32,728.62 L478.67,728.37 L478.11,728.11 L477.64,727.85 L477.25,727.58 L476.96,727.32 L476.76,727.05 L476.65,726.79Z" fill="url(#cyl)"/>
<path d="M503.52,672.17 L503.67,672.00 L503.71,671.83 L503.66,671.65 L503.50,671.47 L503.25,671.29 L502.91,671.11 L502.47,670.93 L501.95,670.76 L501.34,670.58 L500.65,670.42 L499.89,670.25 L499.07,670.10 L498.18,669.96 L497.24,669.82 L496.25,669.70 L495.22,669.58 L494.17,669.48 L493.08,669.39 L491.98,669.32 L490.88,669.26 L489.77,669.22 L488.67,669.18 L487.58,669.17 L486.52,669.17 L485.49,669.18 L484.50,669.21 L483.56,669.26 L482.66,669.32 L481.83,669.39 L481.06,669.48 L480.36,669.58 L479.74,669.69 L479.20,669.82 L478.74,669.96 L478.38,670.10 L478.10,670.25 L477.92,670.42 L477.84,670.58 L477.85,670.76 L477.96,670.93 L478.17,671.11 L478.48,671.29 L478.87,671.48 L479.37,671.66 L479.94,671.83 L480.61,672.00 L481.35,672.17 L482.17,672.33 L483.05,672.48 L484.00,672.62 L485.00,672.76 L486.05,672.88 L487.13,672.98 L488.25,673.08 L489.38,673.15 L490.53,673.22 L491.68,673.27 L492.82,673.30 L493.95,673.32 L495.05,673.32 L496.12,673.30 L497.14,673.27 L498.12,673.22 L499.03,673.15 L499.88,673.07 L500.66,672.98 L501.36,672.87 L501.98,672.75 L502.50,672.62 L502.94,672.48 L503.28,672.33Z" fill="url(#cyltop)" stroke="#3566a0" stroke-width="0.6"/>
<path d="M520.57,731.46 L522.56,686.83 L522.58,686.63 L522.69,686.44 L522.91,686.26 L523.22,686.09 L523.63,685.93 L524.13,685.78 L524.72,685.65 L525.39,685.53 L526.14,685.42 L526.96,685.34 L527.84,685.26 L528.79,685.21 L529.79,685.17 L530.83,685.16 L531.92,685.16 L533.03,685.17 L534.16,685.21 L535.31,685.26 L536.47,685.33 L537.62,685.42 L538.76,685.52 L539.89,685.63 L540.98,685.77 L542.04,685.91 L543.06,686.07 L544.03,686.24 L544.94,686.42 L545.78,686.61 L546.55,686.81 L547.25,687.01 L547.86,687.22 L548.38,687.43 L548.81,687.64 L549.14,687.85 L549.37,688.06 L549.51,688.27 L549.53,688.47 L546.89,733.61 L546.82,733.87 L546.64,734.12 L546.36,734.35 L545.98,734.58 L545.50,734.78 L544.94,734.97 L544.28,735.14 L543.54,735.29 L542.73,735.41 L541.84,735.51 L540.88,735.59 L539.88,735.65 L538.82,735.68 L537.72,735.68 L536.59,735.66 L535.44,735.61 L534.27,735.54 L533.10,735.44 L531.94,735.32 L530.79,735.18 L529.67,735.01 L528.57,734.83 L527.52,734.63 L526.52,734.41 L525.58,734.17 L524.70,733.93 L523.90,733.67 L523.17,733.40 L522.52,733.13 L521.96,732.85 L521.49,732.57 L521.12,732.29 L520.84,732.01 L520.66,731.73Z" fill="url(#cyl)"/>
<path d="M549.46,688.67 L549.53,688.47 L549.51,688.27 L549.37,688.06 L549.14,687.85 L548.81,687.64 L548.38,687.43 L547.86,687.22 L547.25,687.01 L546.55,686.81 L545.78,686.61 L544.94,686.42 L544.03,686.24 L543.06,686.07 L542.04,685.91 L540.98,685.77 L539.89,685.64 L538.76,685.52 L537.62,685.42 L536.47,685.33 L535.31,685.26 L534.16,685.21 L533.03,685.17 L531.92,685.16 L530.83,685.16 L529.79,685.18 L528.79,685.21 L527.84,685.27 L526.96,685.34 L526.14,685.42 L525.39,685.53 L524.72,685.65 L524.13,685.78 L523.63,685.93 L523.22,686.09 L522.91,686.26 L522.69,686.44 L522.58,686.63 L522.56,686.82 L522.65,687.03 L522.84,687.24 L523.13,687.45 L523.51,687.66 L524.00,687.87 L524.58,688.08 L525.24,688.29 L525.99,688.49 L526.82,688.69 L527.72,688.88 L528.69,689.05 L529.72,689.22 L530.80,689.37 L531.92,689.51 L533.07,689.64 L534.25,689.75 L535.44,689.84 L536.64,689.91 L537.83,689.97 L539.01,690.01 L540.17,690.03 L541.30,690.03 L542.38,690.01 L543.41,689.97 L544.39,689.91 L545.29,689.83 L546.13,689.74 L546.88,689.63 L547.55,689.50 L548.13,689.36 L548.61,689.20 L549.00,689.04 L549.28,688.86Z" fill="url(#cyltop)" stroke="#3566a0" stroke-width="0.6"/>
<path d="M567.04,736.40 L572.43,658.55 L572.47,658.40 L572.62,658.25 L572.88,658.11 L573.24,657.98 L573.70,657.87 L574.25,657.76 L574.90,657.66 L575.64,657.58 L576.46,657.51 L577.36,657.45 L578.33,657.41 L579.36,657.38 L580.44,657.37 L581.57,657.37 L582.74,657.38 L583.94,657.41 L585.16,657.46 L586.40,657.51 L587.64,657.59 L588.88,657.67 L590.10,657.77 L591.30,657.88 L592.47,657.99 L593.60,658.12 L594.68,658.26 L595.71,658.41 L596.67,658.56 L597.57,658.72 L598.38,658.89 L599.10,659.06 L599.74,659.23 L600.28,659.40 L600.72,659.58 L601.05,659.75 L601.28,659.92 L601.40,660.08 L601.40,660.24 L594.77,739.23 L594.66,739.49 L594.44,739.74 L594.11,739.98 L593.68,740.20 L593.15,740.40 L592.53,740.58 L591.81,740.74 L591.01,740.87 L590.12,740.98 L589.16,741.06 L588.14,741.12 L587.06,741.15 L585.93,741.15 L584.76,741.13 L583.56,741.08 L582.34,741.00 L581.11,740.90 L579.88,740.77 L578.66,740.62 L577.46,740.45 L576.28,740.25 L575.14,740.04 L574.05,739.80 L573.02,739.56 L572.04,739.29 L571.14,739.02 L570.32,738.74 L569.57,738.45 L568.92,738.15 L568.35,737.85 L567.89,737.55 L567.52,737.26 L567.26,736.97 L567.10,736.68Z" fill="url(#cyl)"/>
<path d="M601.40,660.24 L601.40,660.08 L601.28,659.92 L601.05,659.75 L600.72,659.58 L600.28,659.40 L599.74,659.23 L599.10,659.06 L598.38,658.89 L597.56,658.72 L596.67,658.56 L595.71,658.41 L594.69,658.26 L593.60,658.12 L592.47,657.99 L591.30,657.87 L590.10,657.77 L588.88,657.67 L587.64,657.59 L586.40,657.52 L585.16,657.46 L583.94,657.41 L582.74,657.38 L581.57,657.37 L580.44,657.37 L579.35,657.38 L578.33,657.41 L577.36,657.45 L576.46,657.51 L575.64,657.58 L574.91,657.66 L574.25,657.76 L573.70,657.87 L573.24,657.98 L572.88,658.11 L572.62,658.25 L572.47,658.40 L572.43,658.55 L572.50,658.71 L572.67,658.88 L572.96,659.05 L573.35,659.22 L573.84,659.39 L574.44,659.56 L575.13,659.74 L575.91,659.90 L576.78,660.07 L577.73,660.23 L578.76,660.38 L579.84,660.53 L580.99,660.66 L582.18,660.79 L583.41,660.91 L584.67,661.01 L585.95,661.10 L587.24,661.18 L588.52,661.24 L589.80,661.28 L591.05,661.32 L592.27,661.33 L593.44,661.33 L594.57,661.32 L595.63,661.29 L596.63,661.24 L597.55,661.18 L598.38,661.10 L599.12,661.01 L599.77,660.91 L600.31,660.80 L600.75,660.67 L601.08,660.54 L601.30,660.39Z" fill="url(#cyltop)" stroke="#3566a0" stroke-width="0.6"/>
<path d="M616.28,741.63 L616.52,739.12 L616.61,738.86 L616.79,738.60 L617.09,738.37 L617.49,738.15 L618.00,737.95 L618.60,737.77 L619.29,737.62 L620.07,737.49 L620.93,737.38 L621.87,737.30 L622.87,737.25 L623.93,737.22 L625.05,737.21 L626.22,737.24 L627.42,737.28 L628.65,737.36 L629.90,737.46 L631.16,737.58 L632.42,737.73 L633.67,737.90 L634.91,738.10 L636.12,738.31 L637.30,738.54 L638.43,738.79 L639.51,739.05 L640.53,739.33 L641.49,739.62 L642.36,739.92 L643.16,740.22 L643.87,740.53 L644.48,740.85 L644.99,741.16 L645.40,741.47 L645.70,741.78 L645.89,742.08 L645.97,742.37 L645.68,744.92 L645.64,745.20 L645.49,745.47 L645.23,745.72 L644.85,745.95 L644.37,746.16 L643.77,746.36 L643.08,746.52 L642.29,746.66 L641.42,746.78 L640.45,746.87 L639.42,746.93 L638.31,746.96 L637.15,746.97 L635.94,746.94 L634.69,746.89 L633.41,746.81 L632.12,746.70 L630.81,746.56 L629.51,746.40 L628.22,746.22 L626.95,746.01 L625.72,745.78 L624.52,745.53 L623.38,745.27 L622.31,744.99 L621.30,744.70 L620.36,744.40 L619.51,744.09 L618.75,743.78 L618.09,743.46 L617.52,743.14 L617.06,742.83 L616.70,742.51 L616.45,742.21 L616.31,741.91Z" fill="url(#cyl)"/>
<path d="M645.97,742.37 L645.89,742.08 L645.70,741.78 L645.40,741.47 L644.99,741.16 L644.48,740.85 L643.87,740.53 L643.16,740.22 L642.36,739.92 L641.49,739.62 L640.53,739.33 L639.51,739.05 L638.43,738.79 L637.30,738.54 L636.12,738.31 L634.91,738.10 L633.67,737.90 L632.42,737.73 L631.16,737.58 L629.90,737.46 L628.65,737.36 L627.42,737.28 L626.22,737.23 L625.05,737.21 L623.93,737.22 L622.87,737.24 L621.87,737.30 L620.93,737.38 L620.07,737.49 L619.29,737.62 L618.60,737.77 L618.00,737.95 L617.49,738.15 L617.09,738.37 L616.80,738.60 L616.61,738.85 L616.52,739.12 L616.55,739.40 L616.69,739.70 L616.94,740.00 L617.30,740.30 L617.76,740.61 L618.33,740.93 L619.00,741.24 L619.76,741.55 L620.61,741.86 L621.55,742.15 L622.56,742.44 L623.64,742.72 L624.78,742.98 L625.97,743.22 L627.21,743.45 L628.48,743.65 L629.77,743.84 L631.08,743.99 L632.38,744.13 L633.68,744.24 L634.96,744.32 L636.21,744.37 L637.43,744.39 L638.59,744.39 L639.70,744.36 L640.73,744.30 L641.70,744.21 L642.58,744.10 L643.36,743.95 L644.06,743.79 L644.65,743.60 L645.14,743.39 L645.51,743.16 L645.78,742.91 L645.93,742.65Z" fill="url(#cyltop)" stroke="#3566a0" stroke-width="0.6"/>
<text x="217.97" y="648.93" font-size="13.32" textLength="22.50" lengthAdjust="spacingAndGlyphs" style="font-weight:bold;fill:#2a2a2a;stroke:#2a2a2a;stroke-width:0.35">401</text>
<text x="248.69" y="641.76" font-size="13.32" textLength="22.50" lengthAdjust="spacingAndGlyphs" style="font-weight:bold;fill:#2a2a2a;stroke:#2a2a2a;stroke-width:0.35">488</text>
<text x="289.52" y="696.46" font-size="13.32" textLength="15.00" lengthAdjust="spacingAndGlyphs" style="font-weight:bold;fill:#2a2a2a;stroke:#2a2a2a;stroke-width:0.35">14</text>
<text x="323.22" y="691.51" font-size="13.32" textLength="15.00" lengthAdjust="spacingAndGlyphs" style="font-weight:bold;fill:#2a2a2a;stroke:#2a2a2a;stroke-width:0.35">92</text>
<text x="353.99" y="650.76" font-size="13.32" textLength="22.50" lengthAdjust="spacingAndGlyphs" style="font-weight:bold;fill:#2a2a2a;stroke:#2a2a2a;stroke-width:0.35">474</text>
<text x="393.35" y="685.07" font-size="13.32" textLength="22.50" lengthAdjust="spacingAndGlyphs" style="font-weight:bold;fill:#2a2a2a;stroke:#2a2a2a;stroke-width:0.35">211</text>
<text x="433.66" y="701.53" font-size="13.32" textLength="22.50" lengthAdjust="spacingAndGlyphs" style="font-weight:bold;fill:#2a2a2a;stroke:#2a2a2a;stroke-width:0.35">105</text>
<text x="477.26" y="663.19" font-size="13.32" textLength="22.50" lengthAdjust="spacingAndGlyphs" style="font-weight:bold;fill:#2a2a2a;stroke:#2a2a2a;stroke-width:0.35">445</text>
<text x="522.51" y="679.22" font-size="13.32" textLength="22.50" lengthAdjust="spacingAndGlyphs" style="font-weight:bold;fill:#2a2a2a;stroke:#2a2a2a;stroke-width:0.35">348</text>
<text x="573.36" y="651.39" font-size="13.32" textLength="22.50" lengthAdjust="spacingAndGlyphs" style="font-weight:bold;fill:#2a2a2a;stroke:#2a2a2a;stroke-width:0.35">582</text>
<text x="621.42" y="731.38" font-size="13.32" textLength="15.00" lengthAdjust="spacingAndGlyphs" style="font-weight:bold;fill:#2a2a2a;stroke:#2a2a2a;stroke-width:0.35">19</text>
<text x="123.00" y="823.50" transform="rotate(-45 123.00 823.50)" font-size="11.97" textLength="7.70" lengthAdjust="spacingAndGlyphs" style="fill:#111;stroke:#111;stroke-width:0.5">A</text>
<text x="130.57" y="815.93" transform="rotate(-45 130.57 815.93)" font-size="11.97" textLength="9.42" lengthAdjust="spacingAndGlyphs" style="fill:#111;stroke:#111;stroke-width:0.5">la</text>
<text x="139.36" y="807.14" transform="rotate(-45 139.36 807.14)" font-size="11.97" textLength="56.95" lengthAdjust="spacingAndGlyphs" style="fill:#111;stroke:#111;stroke-width:0.5">prestacion</text>
<text x="181.75" y="764.75" transform="rotate(-45 181.75 764.75)" font-size="11.97" textLength="13.61" lengthAdjust="spacingAndGlyphs" style="fill:#111;stroke:#111;stroke-width:0.5">de</text>
<text x="193.50" y="753.00" transform="rotate(-45 193.50 753.00)" font-size="11.97" textLength="56.48" lengthAdjust="spacingAndGlyphs" style="fill:#111;stroke:#111;stroke-width:0.5">servicios...</text>
<text x="141.10" y="840.80" transform="rotate(-45 141.10 840.80)" font-size="11.97" textLength="7.70" lengthAdjust="spacingAndGlyphs" style="fill:#111;stroke:#111;stroke-width:0.5">A</text>
<text x="148.67" y="833.23" transform="rotate(-45 148.67 833.23)" font-size="11.97" textLength="53.55" lengthAdjust="spacingAndGlyphs" style="fill:#111;stroke:#111;stroke-width:0.5">Conflictos</text>
<text x="188.66" y="793.24" transform="rotate(-45 188.66 793.24)" font-size="11.97" textLength="13.61" lengthAdjust="spacingAndGlyphs" style="fill:#111;stroke:#111;stroke-width:0.5">de</text>
<text x="200.41" y="781.49" transform="rotate(-45 200.41 781.49)" font-size="11.97" textLength="81.36" lengthAdjust="spacingAndGlyphs" style="fill:#111;stroke:#111;stroke-width:0.5">arrendamiento</text>
<text x="181.00" y="839.20" transform="rotate(-45 181.00 839.20)" font-size="11.97" textLength="7.70" lengthAdjust="spacingAndGlyphs" style="fill:#111;stroke:#111;stroke-width:0.5">A</text>
<text x="188.57" y="831.63" transform="rotate(-45 188.57 831.63)" font-size="11.97" textLength="57.49" lengthAdjust="spacingAndGlyphs" style="fill:#111;stroke:#111;stroke-width:0.5">problemas</text>
<text x="231.35" y="788.85" transform="rotate(-45 231.35 788.85)" font-size="11.97" textLength="13.61" lengthAdjust="spacingAndGlyphs" style="fill:#111;stroke:#111;stroke-width:0.5">de</text>
<text x="243.09" y="777.11" transform="rotate(-45 243.09 777.11)" font-size="11.97" textLength="68.28" lengthAdjust="spacingAndGlyphs" style="fill:#111;stroke:#111;stroke-width:0.5">copropiedad</text>
<text x="226.20" y="833.40" transform="rotate(-45 226.20 833.40)" font-size="11.97" textLength="7.70" lengthAdjust="spacingAndGlyphs" style="fill:#111;stroke:#111;stroke-width:0.5">A</text>
<text x="233.77" y="825.83" transform="rotate(-45 233.77 825.83)" font-size="11.97" textLength="57.49" lengthAdjust="spacingAndGlyphs" style="fill:#111;stroke:#111;stroke-width:0.5">problemas</text>
<text x="276.55" y="783.05" transform="rotate(-45 276.55 783.05)" font-size="11.97" textLength="13.61" lengthAdjust="spacingAndGlyphs" style="fill:#111;stroke:#111;stroke-width:0.5">de</text>
<text x="288.29" y="771.31" transform="rotate(-45 288.29 771.31)" font-size="11.97" textLength="55.10" lengthAdjust="spacingAndGlyphs" style="fill:#111;stroke:#111;stroke-width:0.5">comodato</text>
<text x="296.80" y="802.90" transform="rotate(-45 296.80 802.90)" font-size="11.97" textLength="7.70" lengthAdjust="spacingAndGlyphs" style="fill:#111;stroke:#111;stroke-width:0.5">A</text>
<text x="304.37" y="795.33" transform="rotate(-45 304.37 795.33)" font-size="11.97" textLength="9.42" lengthAdjust="spacingAndGlyphs" style="fill:#111;stroke:#111;stroke-width:0.5">la</text>
<text x="313.16" y="786.54" transform="rotate(-45 313.16 786.54)" font-size="11.97" textLength="71.70" lengthAdjust="spacingAndGlyphs" style="fill:#111;stroke:#111;stroke-width:0.5">compraventa</text>
<text x="317.40" y="825.90" transform="rotate(-45 317.40 825.90)" font-size="11.97" textLength="7.70" lengthAdjust="spacingAndGlyphs" style="fill:#111;stroke:#111;stroke-width:0.5">A</text>
<text x="324.97" y="818.33" transform="rotate(-45 324.97 818.33)" font-size="11.97" textLength="28.32" lengthAdjust="spacingAndGlyphs" style="fill:#111;stroke:#111;stroke-width:0.5">otros</text>
<text x="347.12" y="796.18" transform="rotate(-45 347.12 796.18)" font-size="11.97" textLength="42.22" lengthAdjust="spacingAndGlyphs" style="fill:#111;stroke:#111;stroke-width:0.5">asuntos</text>
<text x="379.10" y="764.20" transform="rotate(-45 379.10 764.20)" font-size="11.97" textLength="43.91" lengthAdjust="spacingAndGlyphs" style="fill:#111;stroke:#111;stroke-width:0.5">como:...</text>
<text x="383.90" y="806.20" transform="rotate(-45 383.90 806.20)" font-size="11.97" textLength="7.70" lengthAdjust="spacingAndGlyphs" style="fill:#111;stroke:#111;stroke-width:0.5">A</text>
<text x="391.47" y="798.63" transform="rotate(-45 391.47 798.63)" font-size="11.97" textLength="36.07" lengthAdjust="spacingAndGlyphs" style="fill:#111;stroke:#111;stroke-width:0.5">mutuo</text>
<text x="419.10" y="771.00" transform="rotate(-45 419.10 771.00)" font-size="11.97" textLength="35.54" lengthAdjust="spacingAndGlyphs" style="fill:#111;stroke:#111;stroke-width:0.5">simple</text>
<text x="410.10" y="828.60" transform="rotate(-45 410.10 828.60)" font-size="11.97" textLength="7.70" lengthAdjust="spacingAndGlyphs" style="fill:#111;stroke:#111;stroke-width:0.5">A</text>
<text x="417.67" y="821.03" transform="rotate(-45 417.67 821.03)" font-size="11.97" textLength="36.07" lengthAdjust="spacingAndGlyphs" style="fill:#111;stroke:#111;stroke-width:0.5">mutuo</text>
<text x="445.30" y="793.40" transform="rotate(-45 445.30 793.40)" font-size="11.97" textLength="19.63" lengthAdjust="spacingAndGlyphs" style="fill:#111;stroke:#111;stroke-width:0.5">con</text>
<text x="461.30" y="777.40" transform="rotate(-45 461.30 777.40)" font-size="11.97" textLength="37.57" lengthAdjust="spacingAndGlyphs" style="fill:#111;stroke:#111;stroke-width:0.5">interés</text>
<text x="461.30" y="828.90" transform="rotate(-45 461.30 828.90)" font-size="11.97" textLength="7.70" lengthAdjust="spacingAndGlyphs" style="fill:#111;stroke:#111;stroke-width:0.5">A</text>
<text x="468.87" y="821.33" transform="rotate(-45 468.87 821.33)" font-size="11.97" textLength="34.22" lengthAdjust="spacingAndGlyphs" style="fill:#111;stroke:#111;stroke-width:0.5">títulos</text>
<text x="495.19" y="795.01" transform="rotate(-45 495.19 795.01)" font-size="11.97" textLength="13.61" lengthAdjust="spacingAndGlyphs" style="fill:#111;stroke:#111;stroke-width:0.5">de</text>
<text x="506.94" y="783.26" transform="rotate(-45 506.94 783.26)" font-size="11.97" textLength="38.39" lengthAdjust="spacingAndGlyphs" style="fill:#111;stroke:#111;stroke-width:0.5">crédito</text>
<text x="540.90" y="804.20" transform="rotate(-45 540.90 804.20)" font-size="11.97" textLength="7.70" lengthAdjust="spacingAndGlyphs" style="fill:#111;stroke:#111;stroke-width:0.5">A</text>
<text x="548.47" y="796.63" transform="rotate(-45 548.47 796.63)" font-size="11.97" textLength="48.19" lengthAdjust="spacingAndGlyphs" style="fill:#111;stroke:#111;stroke-width:0.5">informes</text>
<text x="591.80" y="810.80" transform="rotate(-45 591.80 810.80)" font-size="11.97" textLength="7.70" lengthAdjust="spacingAndGlyphs" style="fill:#111;stroke:#111;stroke-width:0.5">A</text>
<text x="599.37" y="803.23" transform="rotate(-45 599.37 803.23)" font-size="11.97" textLength="49.25" lengthAdjust="spacingAndGlyphs" style="fill:#111;stroke:#111;stroke-width:0.5">cobranza</text>
</svg>
</body></html>
